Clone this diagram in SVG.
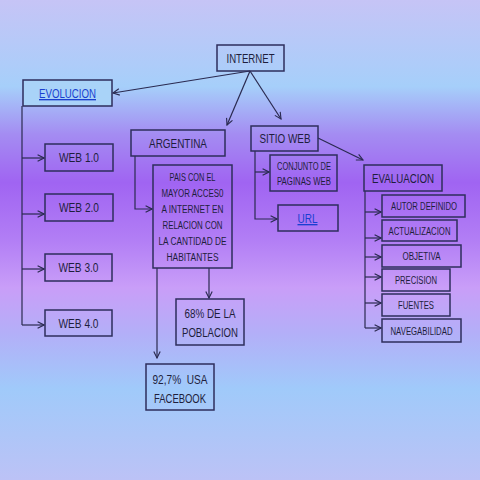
<svg xmlns="http://www.w3.org/2000/svg" width="480" height="480" viewBox="0 0 480 480">
<defs>
<linearGradient id="bg" x1="0" y1="0" x2="0" y2="1">
<stop offset="0" stop-color="#c6c4f6"/>
<stop offset="0.18" stop-color="#a6cffa"/>
<stop offset="0.28" stop-color="#a48cf2"/>
<stop offset="0.38" stop-color="#a064f2"/>
<stop offset="0.5" stop-color="#b27ef5"/>
<stop offset="0.6" stop-color="#c99ef8"/>
<stop offset="0.7" stop-color="#b2b0f8"/>
<stop offset="0.81" stop-color="#a0cafa"/>
<stop offset="1" stop-color="#bcc2f6"/>
</linearGradient>
<marker id="arr" viewBox="0 0 10 10" refX="9" refY="5" markerWidth="8" markerHeight="8" orient="auto" markerUnits="userSpaceOnUse">
<path d="M1,1 L9,5 L1,9" fill="none" stroke="#2a2a50" stroke-width="1.4"/>
</marker>
</defs>
<style>
.box{fill:none;stroke:#2e2e5c;stroke-width:1.5}
.t{font-family:"Liberation Sans",Arial,sans-serif;fill:#1e1e3c;text-anchor:middle}
.big{font-size:13.5px}
.sm{font-size:10px}
.link{fill:#1a3fd0;text-decoration:underline}
.c{fill:none;stroke:#2a2a50;stroke-width:1.2}
</style>
<rect width="480" height="480" fill="url(#bg)"/>

<g id="connectors">
<path class="c" d="M250,71 L113,93" marker-end="url(#arr)"/>
<path class="c" d="M250,71 L227,125" marker-end="url(#arr)"/>
<path class="c" d="M250,71 L281,119" marker-end="url(#arr)"/>
<path class="c" d="M22,106 V325"/>
<path class="c" d="M22,158 H44" marker-end="url(#arr)"/>
<path class="c" d="M22,214 H44" marker-end="url(#arr)"/>
<path class="c" d="M22,269 H44" marker-end="url(#arr)"/>
<path class="c" d="M22,325 H44" marker-end="url(#arr)"/>
<path class="c" d="M135,156 V209 H152" marker-end="url(#arr)"/>
<path class="c" d="M209,268 V298" marker-end="url(#arr)"/>
<path class="c" d="M157,268 V358" marker-end="url(#arr)"/>
<path class="c" d="M255,151 V219 H277" marker-end="url(#arr)"/>
<path class="c" d="M255,172 H269" marker-end="url(#arr)"/>
<path class="c" d="M318,138 L363,160" marker-end="url(#arr)"/>
<path class="c" d="M365,191 V328"/>
<path class="c" d="M365,212 H381" marker-end="url(#arr)"/>
<path class="c" d="M365,238 H381" marker-end="url(#arr)"/>
<path class="c" d="M365,257 H381" marker-end="url(#arr)"/>
<path class="c" d="M365,277 H381" marker-end="url(#arr)"/>
<path class="c" d="M365,303 H381" marker-end="url(#arr)"/>
<path class="c" d="M365,328 H381" marker-end="url(#arr)"/>
</g>

<g id="internet">
<rect class="box" x="217" y="45" width="67" height="26"/>
<text class="t big" x="250.5" y="63" textLength="48" lengthAdjust="spacingAndGlyphs">INTERNET</text>
</g>
<g id="evolucion">
<rect class="box" x="23" y="80" width="89" height="26" style="fill:#a9d3f8"/>
<text class="t big link" x="67.5" y="98" textLength="57" lengthAdjust="spacingAndGlyphs">EVOLUCION</text>
</g>
<g id="web1">
<rect class="box" x="45" y="144" width="68" height="27"/>
<text class="t big" x="79" y="162" textLength="40" lengthAdjust="spacingAndGlyphs">WEB 1.0</text>
</g>
<g id="web2">
<rect class="box" x="45" y="194" width="68" height="27"/>
<text class="t big" x="79" y="212" textLength="40" lengthAdjust="spacingAndGlyphs">WEB 2.0</text>
</g>
<g id="web3">
<rect class="box" x="45" y="254" width="67" height="27"/>
<text class="t big" x="78.5" y="272" textLength="40" lengthAdjust="spacingAndGlyphs">WEB 3.0</text>
</g>
<g id="web4">
<rect class="box" x="45" y="310" width="67" height="26"/>
<text class="t big" x="78.5" y="328" textLength="40" lengthAdjust="spacingAndGlyphs">WEB 4.0</text>
</g>
<g id="argentina">
<rect class="box" x="131" y="130" width="94" height="26"/>
<text class="t big" x="178" y="148" textLength="58" lengthAdjust="spacingAndGlyphs">ARGENTINA</text>
</g>
<g id="pais">
<rect class="box" x="153" y="165" width="79" height="103"/>
<text class="t sm" x="192.5" y="181" textLength="46" lengthAdjust="spacingAndGlyphs">PAIS CON EL</text>
<text class="t sm" x="192.5" y="197" textLength="62" lengthAdjust="spacingAndGlyphs">MAYOR ACCES0</text>
<text class="t sm" x="192.5" y="213" textLength="62" lengthAdjust="spacingAndGlyphs">A INTERNET EN</text>
<text class="t sm" x="192.5" y="229" textLength="60" lengthAdjust="spacingAndGlyphs">RELACION CON</text>
<text class="t sm" x="192.5" y="245" textLength="68" lengthAdjust="spacingAndGlyphs">LA CANTIDAD DE</text>
<text class="t sm" x="192.5" y="261" textLength="52" lengthAdjust="spacingAndGlyphs">HABITANTES</text>
</g>
<g id="poblacion">
<rect class="box" x="176" y="299" width="68" height="46"/>
<text class="t big" x="210" y="318" textLength="51" lengthAdjust="spacingAndGlyphs">68% DE LA</text>
<text class="t big" x="210" y="337" textLength="56" lengthAdjust="spacingAndGlyphs">POBLACION</text>
</g>
<g id="facebook">
<rect class="box" x="146" y="364" width="68" height="46"/>
<text class="t big" x="180" y="384" textLength="55" lengthAdjust="spacingAndGlyphs" xml:space="preserve">92,7%  USA</text>
<text class="t big" x="180" y="403" textLength="52" lengthAdjust="spacingAndGlyphs">FACEBOOK</text>
</g>
<g id="sitioweb">
<rect class="box" x="251" y="126" width="67" height="25"/>
<text class="t big" x="285" y="143" textLength="51" lengthAdjust="spacingAndGlyphs">SITIO WEB</text>
</g>
<g id="conjunto">
<rect class="box" x="270" y="155" width="67" height="36"/>
<text class="t sm" x="304" y="170" textLength="54" lengthAdjust="spacingAndGlyphs">CONJUNTO DE</text>
<text class="t sm" x="304" y="185" textLength="54" lengthAdjust="spacingAndGlyphs">PAGINAS WEB</text>
</g>
<g id="url">
<rect class="box" x="278" y="205" width="60" height="26"/>
<text class="t big link" x="307.5" y="223" textLength="20" lengthAdjust="spacingAndGlyphs">URL</text>
</g>
<g id="evaluacion">
<rect class="box" x="364" y="165" width="78" height="26"/>
<text class="t big" x="403" y="183" textLength="62" lengthAdjust="spacingAndGlyphs">EVALUACION</text>
</g>
<g id="autor">
<rect class="box" x="382" y="195" width="83" height="22"/>
<text class="t sm" x="424" y="210" textLength="66" lengthAdjust="spacingAndGlyphs">AUTOR DEFINIDO</text>
</g>
<g id="actualizacion">
<rect class="box" x="382" y="220" width="75" height="21"/>
<text class="t sm" x="419.5" y="234.5" textLength="62" lengthAdjust="spacingAndGlyphs">ACTUALIZACION</text>
</g>
<g id="objetiva">
<rect class="box" x="382" y="245" width="79" height="22"/>
<text class="t sm" x="421.5" y="260" textLength="38" lengthAdjust="spacingAndGlyphs">OBJETIVA</text>
</g>
<g id="precision">
<rect class="box" x="382" y="269" width="68" height="22"/>
<text class="t sm" x="416" y="284" textLength="42" lengthAdjust="spacingAndGlyphs">PRECISION</text>
</g>
<g id="fuentes">
<rect class="box" x="382" y="294" width="68" height="22"/>
<text class="t sm" x="416" y="309" textLength="36" lengthAdjust="spacingAndGlyphs">FUENTES</text>
</g>
<g id="navegabilidad">
<rect class="box" x="382" y="319" width="79" height="23"/>
<text class="t sm" x="421.5" y="334.5" textLength="62" lengthAdjust="spacingAndGlyphs">NAVEGABILIDAD</text>
</g>
</svg>
